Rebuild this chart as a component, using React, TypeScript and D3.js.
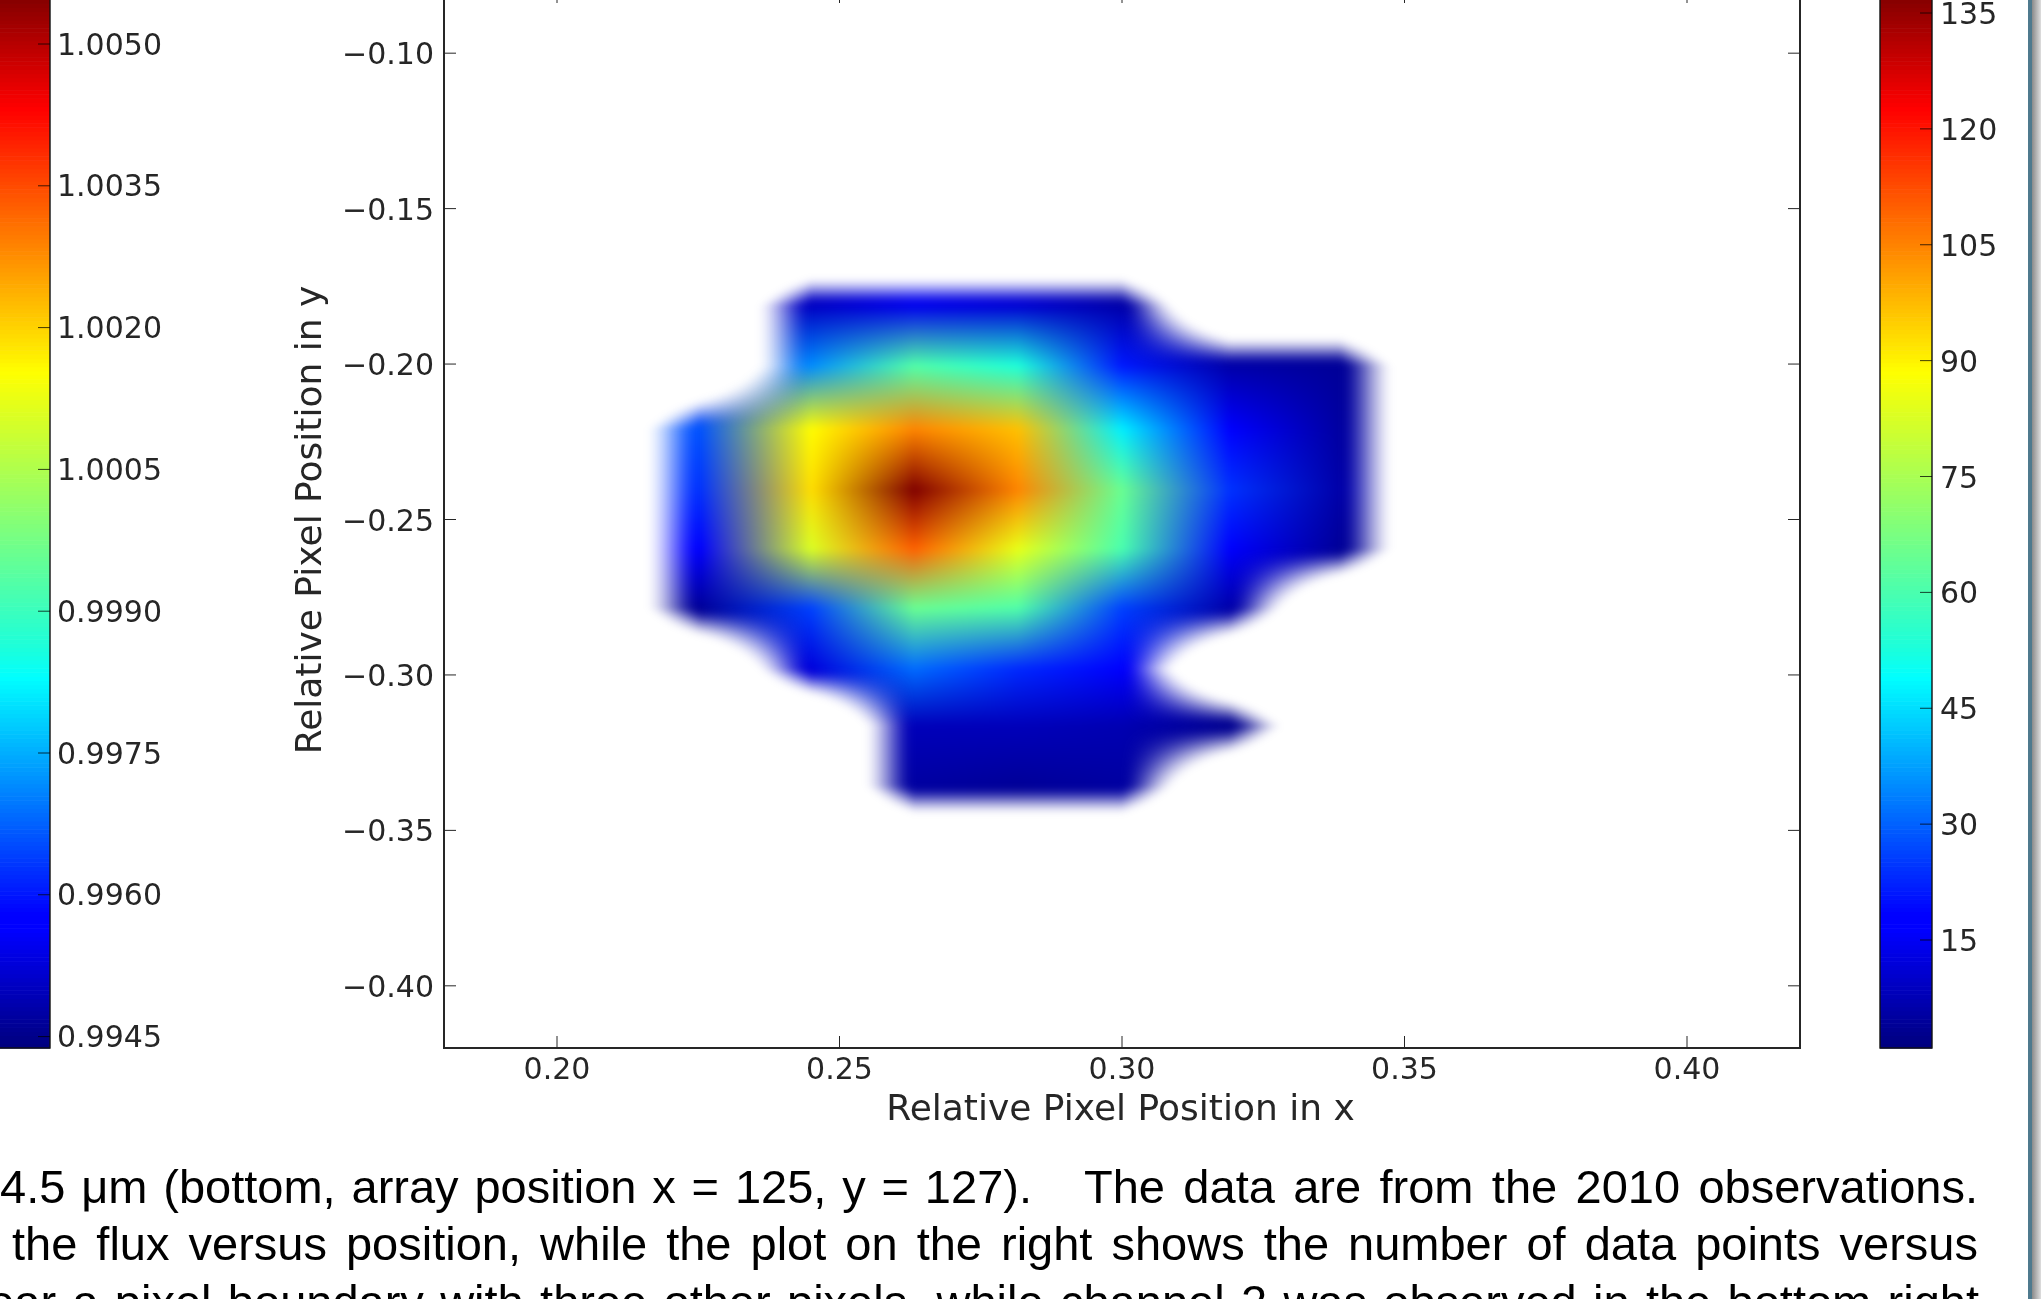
import React, { useMemo } from "react";
import * as d3 from "d3";

const W = 2041, H = 1299;
const xTicks = [0.2, 0.25, 0.3, 0.35, 0.4];
const yTicks = [-0.1, -0.15, -0.2, -0.25, -0.3, -0.35, -0.4];
const fluxTicks = [1.005, 1.0035, 1.002, 1.0005, 0.999, 0.9975, 0.996, 0.9945];
const countTicks = [135, 120, 105, 90, 75, 60, 45, 30, 15];
const gridX = [0.2252, 0.2449, 0.2631, 0.2815, 0.2999, 0.319, 0.3385];
const gridY = [-0.1811, -0.2004, -0.2207, -0.2403, -0.2593, -0.2783, -0.2979, -0.3162, -0.3355];
const N = null;
const counts: (number | null)[][] = [
  [N, 9, 14, 11, 6, N, N],
  [N, 35, 61, 53, 21, 6, 4],
  [28, 89, 105, 97, 47, 16, 5],
  [24, 93, 138, 105, 65, 24, 6],
  [16, 83, 110, 85, 60, 16, 4],
  [4, 26, 65, 61, 26, 6, N],
  [N, 12, 31, 23, 16, N, N],
  [N, N, 8, 8, 7, 3, N],
  [N, N, 5, 4, 5, N, N],
];
const captionSegments = [
  { text: "4.5 μm (bottom, array position x = 125, y = 127).", start: 0, end: 1032, base: 1203 },
  { text: "The data are from the 2010 observations.", start: 1084, end: 1978, base: 1203 },
  { text: "the flux versus position, while the plot on the right shows the number of data points versus", start: 12, end: 1978, base: 1260 },
  { text: "near a pixel boundary with three other pixels, while channel 2 was observed in the bottom right", start: -38, end: 1979, base: 1318 },
];

const jetStops: [number, string][] = [
  [0, "#00007f"], [0.11, "#0000ff"], [0.125, "#0000ff"], [0.35, "#00ffff"], [0.375, "#19ffde"],
  [0.64, "#ffff00"], [0.66, "#ffea00"], [0.89, "#ff0000"], [0.91, "#e80000"], [1, "#7f0000"],
];
const jet = d3.scaleLinear<string>().domain(jetStops.map((d) => d[0])).range(jetStops.map((d) => d[1])).clamp(true);

const plot = { left: 444, right: 1800, top: -9, bottom: 1048 };
const xS = d3.scaleLinear().domain([0.18, 0.42]).range([plot.left, plot.right]);
const yS = d3.scaleLinear().domain([-0.42, -0.08]).range([plot.bottom, plot.top]);
const fluxS = d3.scaleLinear().domain([0.9945, 1.005]).range([1036.6, 44]);
const countS = d3.scaleLinear().domain([15, 135]).range([940, 13]);
const cS = d3.scaleLinear().domain([1, 138]).range([0, 1]);
const levels = d3.range(256);
const ink = "#262626";
const tickFont = "'DejaVu Sans'";

function buildHeat() {
  const rows = counts.length, cols = gridX.length;
  // colours are mapped first, then blended between grid points; empty cells take the nearest neighbour's colour
  const colour = counts.map((r, j) =>
    r.map((v, i) => {
      let val = v;
      if (val === null) {
        const near: number[] = [];
        for (let b = -1; b <= 1; b++) for (let a = -1; a <= 1; a++) {
          const n = counts[j + b]?.[i + a];
          if (n !== null && n !== undefined) near.push(n);
        }
        val = near.length ? (d3.min(near) as number) : 1;
      }
      return d3.rgb(jet(cS(val)));
    })
  );
  const mask = counts.map((r) => r.map((v) => (v === null ? 0 : 1)));
  const stepX = gridX[1] - gridX[0], stepY = gridY[0] - gridY[1];
  const x0 = Math.floor(xS(gridX[0] - stepX)), x1 = Math.ceil(xS(gridX[cols - 1] + stepX));
  const y0 = Math.floor(yS(gridY[0] + stepY)), y1 = Math.ceil(yS(gridY[rows - 1] - stepY));
  const w = x1 - x0, h = y1 - y0;
  const canvas = document.createElement("canvas");
  canvas.width = w; canvas.height = h;
  const ctx = canvas.getContext("2d")!;
  const img = ctx.createImageData(w, h);
  const cellX = d3.scaleLinear().domain(gridX.map((g) => xS(g))).range(d3.range(cols));
  const cellY = d3.scaleLinear().domain(gridY.map((g) => yS(g))).range(d3.range(rows));
  const cl = (v: number, hi: number) => Math.min(Math.max(v, 0), hi);
  for (let py = 0; py < h; py++) {
    for (let px = 0; px < w; px++) {
      const fx = cellX(px + x0), fy = cellY(py + y0);
      const i = Math.floor(fx), j = Math.floor(fy);
      const u = fx - i, v = fy - j;
      const corners: [number, number, number][] = [
        [i, j, (1 - u) * (1 - v)], [i + 1, j, u * (1 - v)], [i, j + 1, (1 - u) * v], [i + 1, j + 1, u * v],
      ];
      let m = 0, r = 0, g = 0, b = 0;
      for (const [ci, cj, wt] of corners) {
        const inside = ci >= 0 && ci < cols && cj >= 0 && cj < rows;
        if (inside) m += mask[cj][ci] * wt;
        const c = colour[cl(cj, rows - 1)][cl(ci, cols - 1)];
        r += c.r * wt; g += c.g * wt; b += c.b * wt;
      }
      const a = Math.max(0, Math.min(1, (m - 0.5) / 0.5));
      const sm = a * a * (3 - 2 * a);
      const k = (py * w + px) * 4;
      img.data[k] = r; img.data[k + 1] = g; img.data[k + 2] = b; img.data[k + 3] = Math.round(sm * 255);
    }
  }
  ctx.putImageData(img, 0, 0);
  return { href: canvas.toDataURL("image/png"), x: x0, y: y0, w, h };
}

function fitSpacing(text: string, width: number, font: string) {
  const c = document.createElement("canvas").getContext("2d")!;
  c.font = font;
  const natural = c.measureText(text).width;
  const spaces = text.split(" ").length - 1;
  return (width - natural) / spaces;
}

function ColorBar({ x0, x1 }: { x0: number; x1: number }) {
  const h = (plot.bottom - plot.top) / 256;
  return (
    <g>
      {levels.map((l) => (
        <rect key={l} x={x0} width={x1 - x0} y={plot.bottom - (l + 1) * h} height={h + 0.6} fill={jet(l / 255)} />
      ))}
      <rect x={x0} y={plot.top} width={x1 - x0} height={plot.bottom - plot.top} fill="none" stroke="#111" strokeWidth={1.4} />
    </g>
  );
}

export default function App() {
  const heat = useMemo(buildHeat, []);
  const capFont = "47px 'Liberation Sans'";
  return (
    <svg width={W} height={H} viewBox={`0 0 ${W} ${H}`} style={{ position: "absolute", left: 0, top: 0, background: "#fff" }}>
      <defs>
        <filter id="soft" x="-5%" y="-5%" width="110%" height="110%" colorInterpolationFilters="sRGB">
          <feGaussianBlur stdDeviation="3" />
        </filter>
        <filter id="jpeg" x="-2%" y="-2%" width="104%" height="104%" colorInterpolationFilters="sRGB">
          <feGaussianBlur stdDeviation="0.45" />
        </filter>
        <linearGradient id="edge" x1="0" x2="1" y1="0" y2="0">
          <stop offset="0" stopColor="#8a8a8a" />
          <stop offset="1" stopColor="#dedede" />
        </linearGradient>
      </defs>
      <image href={heat.href} x={heat.x} y={heat.y} width={heat.w} height={heat.h} filter="url(#soft)" />

      {/* axes */}
      <rect x={plot.left} y={plot.top} width={plot.right - plot.left} height={plot.bottom - plot.top} fill="none" stroke={ink} strokeWidth={2} />
      {xTicks.map((t) => (
        <g key={t} stroke={ink} strokeWidth={1}>
          <line x1={xS(t)} x2={xS(t)} y1={plot.bottom} y2={plot.bottom - 12} />
          <line x1={xS(t)} x2={xS(t)} y1={plot.top} y2={plot.top + 12} />
        </g>
      ))}
      {yTicks.map((t) => (
        <g key={t} stroke={ink} strokeWidth={1}>
          <line x1={plot.left} x2={plot.left + 12} y1={yS(t)} y2={yS(t)} />
          <line x1={plot.right} x2={plot.right - 12} y1={yS(t)} y2={yS(t)} />
        </g>
      ))}
      <g fontFamily={tickFont} fontSize={30} fill={ink} filter="url(#jpeg)">
        {xTicks.map((t) => (
          <text key={t} x={xS(t)} y={1079} textAnchor="middle">{d3.format(".2f")(t)}</text>
        ))}
        {yTicks.map((t) => (
          <text key={t} x={434} y={yS(t) + 11} textAnchor="end">{"\u2212" + d3.format(".2f")(Math.abs(t))}</text>
        ))}
        <text x={1120.5} y={1120} textAnchor="middle" fontSize={36}>Relative Pixel Position in x</text>
        <text transform={`translate(321,520) rotate(-90)`} textAnchor="middle" fontSize={36}>Relative Pixel Position in y</text>
      </g>

      {/* flux colour bar */}
      <ColorBar x0={-20} x1={50} />
      <g filter="url(#jpeg)">
        {fluxTicks.map((t) => (
          <g key={t}>
            <line x1={38} x2={50} y1={fluxS(t)} y2={fluxS(t)} stroke="#000" strokeOpacity={0.75} />
            <text x={57} y={fluxS(t) + 10.5} fontFamily={tickFont} fontSize={30} fill={ink}>{d3.format(".4f")(t)}</text>
          </g>
        ))}
      </g>

      {/* count colour bar */}
      <ColorBar x0={1880} x1={1932} />
      <g filter="url(#jpeg)">
        {countTicks.map((t) => (
          <g key={t}>
            <line x1={1920} x2={1932} y1={countS(t)} y2={countS(t)} stroke="#000" strokeOpacity={0.75} />
            <text x={1940} y={countS(t) + 11} fontFamily={tickFont} fontSize={30} fill={ink}>{t}</text>
          </g>
        ))}
      </g>

      {/* caption */}
      {captionSegments.map((l) => (
        <text key={l.text} x={l.start} y={l.base} fontFamily="'Liberation Sans'" fontSize={47} fill="#000"
          style={{ wordSpacing: fitSpacing(l.text, l.end - l.start, capFont) }}>
          {l.text}
        </text>
      ))}

      {/* page edge */}
      <rect x={2028} y={0} width={4} height={H} fill="#4f7a8e" />
      <rect x={2032} y={0} width={9} height={H} fill="url(#edge)" />
    </svg>
  );
}
